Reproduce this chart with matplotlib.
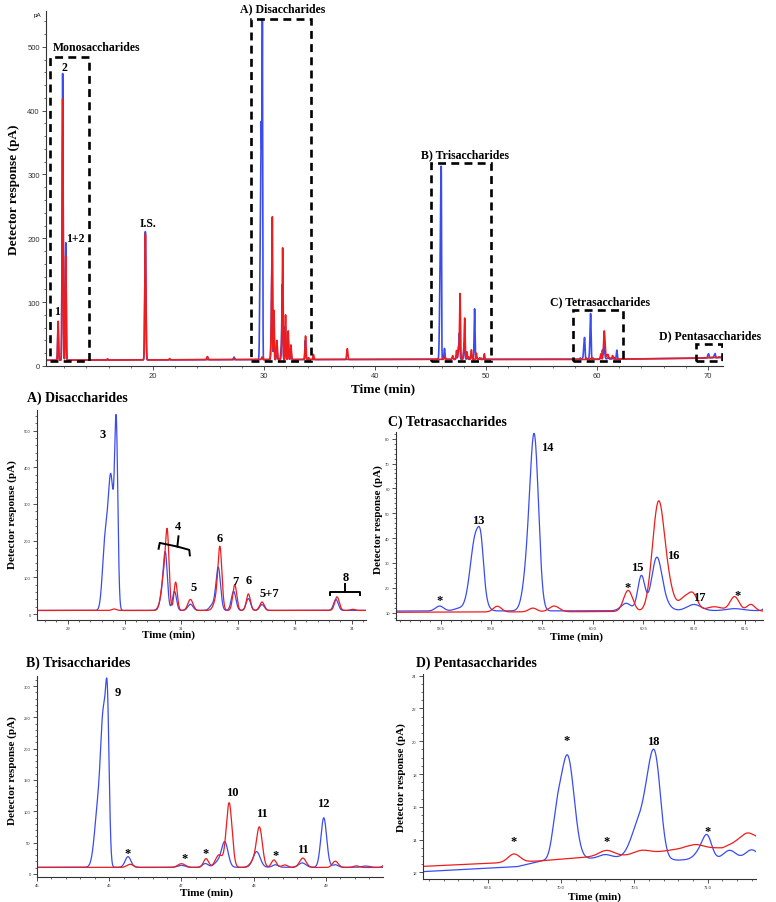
import matplotlib

matplotlib.use("Agg")
import matplotlib.pyplot as plt
import numpy as np
from matplotlib.patches import Rectangle
from matplotlib.ticker import MultipleLocator

W, H = 776, 903
BLUE = "#3a4cf0"
RED = "#ee1c1c"
SERIF = "Liberation Serif"
SANS = "Liberation Sans"

# ----------------------------------------------------------------------
# Peak tables: (retention time min, height above
# baseline pA, peak sigma min)
# ----------------------------------------------------------------------
BLUE_MONO = [(11.45, 50, 0.04), (11.86, 449, 0.045), (12.14, 184, 0.04),
             (19.31, 201, 0.05), (27.3, 4, 0.05)]
RED_MONO = [(11.45, 61, 0.04), (11.86, 409, 0.045), (12.14, 163, 0.04),
            (15.9, 2, 0.05), (19.31, 197, 0.05), (21.5, 2, 0.05), (24.9, 5, 0.06)]

BLUE_DI = [(29.655, 170, 0.045), (29.76, 360, 0.05), (29.855, 470, 0.028),
           (30.67, 40, 0.05), (30.72, 135, 0.035), (30.88, 52, 0.035),
           (31.16, 17, 0.045), (31.55, 15, 0.05), (31.65, 116, 0.04),
           (31.92, 52, 0.04), (32.18, 32, 0.04), (32.42, 16, 0.04),
           (33.72, 30, 0.04)]
RED_DI = [(29.82, 4, 0.04), (30.70, 100, 0.05), (30.755, 165, 0.03),
          (30.90, 77, 0.03), (31.16, 30, 0.045), (31.62, 30, 0.05),
          (31.68, 160, 0.035), (31.94, 70, 0.035), (32.18, 45, 0.035),
          (32.42, 23, 0.04), (33.74, 37, 0.04), (34.02, 3, 0.04),
          (34.45, 8, 0.04), (37.5, 17, 0.05)]

BLUE_TRI = [(45.85, 100, 0.05), (45.92, 200, 0.035), (45.975, 225, 0.025),
            (46.26, 17, 0.04), (47.0, 3, 0.05), (47.33, 6, 0.04),
            (47.5, 8, 0.05), (47.6, 40, 0.045), (48.04, 25, 0.05),
            (48.3, 4, 0.04), (48.67, 7, 0.05), (48.97, 79, 0.04),
            (49.13, 4, 0.04), (49.55, 2, 0.05)]
RED_TRI = [(46.29, 5, 0.045), (47.0, 6, 0.05), (47.34, 14, 0.035),
           (47.52, 20, 0.05), (47.66, 103, 0.04), (48.0, 10, 0.05),
           (48.08, 62, 0.04), (48.28, 12, 0.035), (48.43, 4, 0.04),
           (48.68, 15, 0.045), (49.13, 10, 0.04), (49.42, 2.5, 0.04),
           (49.85, 9, 0.04)]

BLUE_TETRA = [(58.49, 2, 0.04), (58.68, 1, 0.05), (58.85, 31, 0.055),
              (58.9, 10, 0.025), (59.38, 25, 0.05), (59.43, 55, 0.04),
              (60.33, 3, 0.05), (60.48, 14, 0.035), (60.63, 20, 0.05),
              (60.7, 3, 0.06), (61.0, 2.5, 0.07), (61.4, 0.8, 0.08),
              (61.78, 14, 0.04)]
RED_TETRA = [(59.06, 2.3, 0.04), (59.41, 1.5, 0.04), (59.62, 2.3, 0.05),
             (60.35, 8.5, 0.045), (60.65, 44, 0.06), (60.76, 6, 0.05),
             (60.9, 5, 0.05), (60.99, 6.5, 0.045), (61.2, 1.8, 0.08),
             (61.4, 5.8, 0.045), (61.56, 2.7, 0.04)]

BLUE_PENTA = [(69.97, 2, 0.03), (70.045, 6.3, 0.045), (70.3, 0.2, 0.04),
              (70.53, 2.0, 0.05), (70.61, 4.0, 0.04), (70.655, 3.7, 0.035),
              (70.96, 0.6, 0.04), (71.0, 1.1, 0.03), (71.15, 0.5, 0.04),
              (71.3, 0.5, 0.04)]
RED_PENTA = [(69.68, 0.5, 0.04), (70.31, 0.35, 0.05), (70.55, 0.2, 0.05),
             (70.92, 0.2, 0.05), (71.27, 0.4, 0.04)]

# baseline drift (time, pA)
BLUE_BASE_T = [10.3, 28, 45, 58, 62, 69.06, 69.7, 69.87, 70.2, 70.45, 70.8, 70.9, 71.4]
BLUE_BASE_V = [9.0, 10.0, 10.5, 10.6, 10.8, 12.05, 12.35, 12.7, 12.85, 12.95, 12.75, 12.8, 12.9]
RED_BASE_T = [10.3, 28, 45, 58, 61.7, 69.06, 69.5, 69.85, 70.2, 70.45, 70.7, 70.85, 71.1, 71.2, 71.4]
RED_BASE_V = [9.0, 10.0, 10.3, 10.1, 10.6, 12.37, 12.55, 12.7, 12.95, 13.05, 13.3, 13.5, 13.5, 13.9, 14.2]

BLUE_PEAKS = BLUE_MONO + BLUE_DI + BLUE_TRI + BLUE_TETRA + BLUE_PENTA
RED_PEAKS = RED_MONO + RED_DI + RED_TRI + RED_TETRA + RED_PENTA

# boxed regions on the overview: label, t0, t1, top, label x, label y
REGIONS = [
    ("Monosaccharides", 10.7, 14.2, 484, 14.9, 500),
    ("A) Disaccharides", 28.8, 34.2, 544, 31.7, 560),
    ("B) Trisaccharides", 45.0, 50.45, 318, 48.1, 332),
    ("C) Tetrasaccharides", 57.8, 62.3, 88, 60.3, 101),
    ("D) Pentasaccharides", 68.9, 71.3, 34, 70.2, 48),
]
MAIN_LABELS = [("2", 11.98, 469), ("1+2", 13.0, 200), ("I.S.", 19.55, 224), ("1", 11.35, 86)]

DI_LABELS = [("3", 29.61, 490), ("4", 30.95, 240), ("5", 31.21, 74), ("6", 31.68, 207),
             ("7", 31.95, 90), ("6", 32.18, 93), ("5+7", 32.54, 57), ("8", 33.89, 101)]
TRI_LABELS = [("9", 46.12, 291), ("*", 46.25, 33), ("*", 47.04, 26), ("*", 47.33, 34),
              ("10", 47.70, 131), ("11", 48.12, 97), ("*", 48.30, 30), ("11", 48.68, 40),
              ("12", 48.97, 113)]
TETRA_LABELS = [("*", 58.49, 15.0), ("13", 58.87, 47.3), ("14", 59.55, 76.7),
                ("15", 60.44, 28.3), ("*", 60.34, 20.3), ("16", 60.79, 33.2),
                ("17", 61.05, 16.3), ("*", 61.43, 17.1)]
PENTA_LABELS = [("*", 69.68, 13.9), ("*", 70.04, 20.1), ("*", 70.31, 13.9),
                ("18", 70.63, 20.0), ("*", 71.0, 14.5)]


def trace(t, peaks, base_t, base_v):
    y = np.interp(t, base_t, base_v)
    for rt, h, s in peaks:
        y = y + h * np.exp(-0.5 * ((t - rt) / s) ** 2)
    return y


def fpos(x, y):
    """pixel position -> figure fraction"""
    return x / W, 1 - y / H


def style_axes(ax, size):
    for side in ("top", "right"):
        ax.spines[side].set_visible(False)
    for side in ("left", "bottom"):
        ax.spines[side].set_linewidth(0.8)
        ax.spines[side].set_color("#333333")
    ax.tick_params(which="major", length=3, width=0.6, labelsize=size, pad=1.5,
                   colors="#333333")
    ax.tick_params(which="minor", length=1.6, width=0.5, colors="#333333")
    for lab in ax.get_xticklabels() + ax.get_yticklabels():
        lab.set_family(SANS)


def draw_traces(ax, lo, hi, lw):
    t = np.linspace(lo, hi, 12000)
    ax.plot(t, trace(t, BLUE_PEAKS, BLUE_BASE_T, BLUE_BASE_V), color=BLUE, lw=lw)
    ax.plot(t, trace(t, RED_PEAKS, RED_BASE_T, RED_BASE_V), color=RED, lw=lw)


def add_labels(ax, labels, size=9):
    for txt, x, y in labels:
        ax.text(x, y, txt, ha="center", va="center", fontsize=size,
                family=SERIF, fontweight="bold")


def add_axes_px(fig, x0, y0, x1, y1):
    return fig.add_axes([x0 / W, 1 - y1 / H, (x1 - x0) / W, (y1 - y0) / H])


fig = plt.figure(figsize=(W / 100, H / 100), dpi=100)

# ----------------------------------------------------------------------
# Overview chromatogram
# ----------------------------------------------------------------------
ax = add_axes_px(fig, 46, 12, 723, 367)
t_full = np.linspace(10.36, 71.35, 40000)
ax.plot(t_full, trace(t_full, BLUE_PEAKS, BLUE_BASE_T, BLUE_BASE_V), color=BLUE, lw=1.2)
ax.plot(t_full, trace(t_full, RED_PEAKS, RED_BASE_T, RED_BASE_V), color=RED, lw=1.2)
ax.set_xlim(10.36, 71.35)
ax.set_ylim(0, 556)
ax.xaxis.set_major_locator(MultipleLocator(10))
ax.xaxis.set_minor_locator(MultipleLocator(2))
ax.yaxis.set_major_locator(MultipleLocator(100))
ax.yaxis.set_minor_locator(MultipleLocator(20))
style_axes(ax, 5.5)
for name, t0, t1, top, lx, ly in REGIONS:
    ax.add_patch(Rectangle((t0, 8), t1 - t0, top - 8, fill=False, ec="black",
                           lw=1.9, ls=(0, (3, 2)), zorder=4))
    ax.text(lx, ly, name, ha="center", va="center", fontsize=8.5, family=SERIF,
            fontweight="bold", clip_on=False)
add_labels(ax, MAIN_LABELS, size=8.5)
fig.text(*fpos(37, 15), "pA", fontsize=4.5, family=SANS, ha="center", va="center")
fig.text(*fpos(14, 190), "Detector response (pA)", rotation=90, fontsize=9.5,
         family=SERIF, fontweight="bold", ha="center", va="center")
fig.text(*fpos(383, 389), "Time (min)", fontsize=9.5, family=SERIF,
         fontweight="bold", ha="center", va="center")

# ----------------------------------------------------------------------
# A) Disaccharides
# ----------------------------------------------------------------------
ax_a = add_axes_px(fig, 37, 411, 366, 621)
draw_traces(ax_a, 28.46, 34.25, 0.9)
ax_a.set_xlim(28.46, 34.25)
ax_a.set_ylim(-16, 556)
ax_a.xaxis.set_major_locator(MultipleLocator(1))
ax_a.xaxis.set_minor_locator(MultipleLocator(0.2))
ax_a.yaxis.set_major_locator(MultipleLocator(100))
ax_a.yaxis.set_minor_locator(MultipleLocator(20))
style_axes(ax_a, 3)
add_labels(ax_a, DI_LABELS)
# brace over peak group 4
ax_a.plot([30.60, 30.62, 30.93, 31.14, 31.15], [178, 194, 184, 175, 160],
          color="black", lw=1.4, solid_joinstyle="round")
ax_a.plot([30.93, 30.95], [184, 212], color="black", lw=1.4)
# brace over peak group 8
ax_a.plot([33.61, 33.61, 34.15, 34.15], [52, 61, 61, 52], color="black", lw=1.4)
ax_a.plot([33.88, 33.88], [61, 82], color="black", lw=1.4)
fig.text(*fpos(27, 398), "A) Disaccharides", fontsize=10, family=SERIF,
         fontweight="bold", ha="left", va="center")
fig.text(*fpos(12, 515), "Detector response (pA)", rotation=90, fontsize=8,
         family=SERIF, fontweight="bold", ha="center", va="center")
fig.text(*fpos(168, 635), "Time (min)", fontsize=8, family=SERIF,
         fontweight="bold", ha="center", va="center")

# ----------------------------------------------------------------------
# C) Tetrasaccharides
# ----------------------------------------------------------------------
ax_c = add_axes_px(fig, 396, 433, 763, 621)
draw_traces(ax_c, 58.06, 61.68, 0.9)
ax_c.set_xlim(58.06, 61.68)
ax_c.set_ylim(7.0, 82.7)
ax_c.xaxis.set_major_locator(MultipleLocator(0.5))
ax_c.xaxis.set_minor_locator(MultipleLocator(0.1))
ax_c.yaxis.set_major_locator(MultipleLocator(10))
ax_c.yaxis.set_minor_locator(MultipleLocator(2))
style_axes(ax_c, 3)
add_labels(ax_c, TETRA_LABELS)
fig.text(*fpos(388, 422), "C) Tetrasaccharides", fontsize=10, family=SERIF,
         fontweight="bold", ha="left", va="center")
fig.text(*fpos(378, 520), "Detector response (pA)", rotation=90, fontsize=8,
         family=SERIF, fontweight="bold", ha="center", va="center")
fig.text(*fpos(577, 637), "Time (min)", fontsize=8, family=SERIF,
         fontweight="bold", ha="center", va="center")

# ----------------------------------------------------------------------
# B) Trisaccharides
# ----------------------------------------------------------------------
ax_b = add_axes_px(fig, 37, 677, 383, 878)
draw_traces(ax_b, 45.0, 49.79, 0.9)
ax_b.set_xlim(45.0, 49.79)
ax_b.set_ylim(-5, 316)
ax_b.xaxis.set_major_locator(MultipleLocator(1))
ax_b.xaxis.set_minor_locator(MultipleLocator(0.2))
ax_b.yaxis.set_major_locator(MultipleLocator(50))
ax_b.yaxis.set_minor_locator(MultipleLocator(10))
style_axes(ax_b, 3)
add_labels(ax_b, TRI_LABELS)
fig.text(*fpos(26, 663), "B) Trisaccharides", fontsize=10, family=SERIF,
         fontweight="bold", ha="left", va="center")
fig.text(*fpos(12, 771), "Detector response (pA)", rotation=90, fontsize=8,
         family=SERIF, fontweight="bold", ha="center", va="center")
fig.text(*fpos(207, 893), "Time (min)", fontsize=8, family=SERIF,
         fontweight="bold", ha="center", va="center")

# ----------------------------------------------------------------------
# D) Pentasaccharides
# ----------------------------------------------------------------------
ax_d = add_axes_px(fig, 423, 675, 756, 880)
draw_traces(ax_d, 69.06, 71.33, 0.9)
ax_d.set_xlim(69.06, 71.33)
ax_d.set_ylim(11.6, 24.1)
ax_d.xaxis.set_major_locator(MultipleLocator(0.5))
ax_d.xaxis.set_minor_locator(MultipleLocator(0.1))
ax_d.yaxis.set_major_locator(MultipleLocator(2))
ax_d.yaxis.set_minor_locator(MultipleLocator(0.5))
style_axes(ax_d, 3)
add_labels(ax_d, PENTA_LABELS)
fig.text(*fpos(416, 663), "D) Pentasaccharides", fontsize=10, family=SERIF,
         fontweight="bold", ha="left", va="center")
fig.text(*fpos(401, 778), "Detector response (pA)", rotation=90, fontsize=8,
         family=SERIF, fontweight="bold", ha="center", va="center")
fig.text(*fpos(595, 897), "Time (min)", fontsize=8, family=SERIF,
         fontweight="bold", ha="center", va="center")

fig.savefig("out.png", dpi=100, facecolor="white")
plt.close(fig)
